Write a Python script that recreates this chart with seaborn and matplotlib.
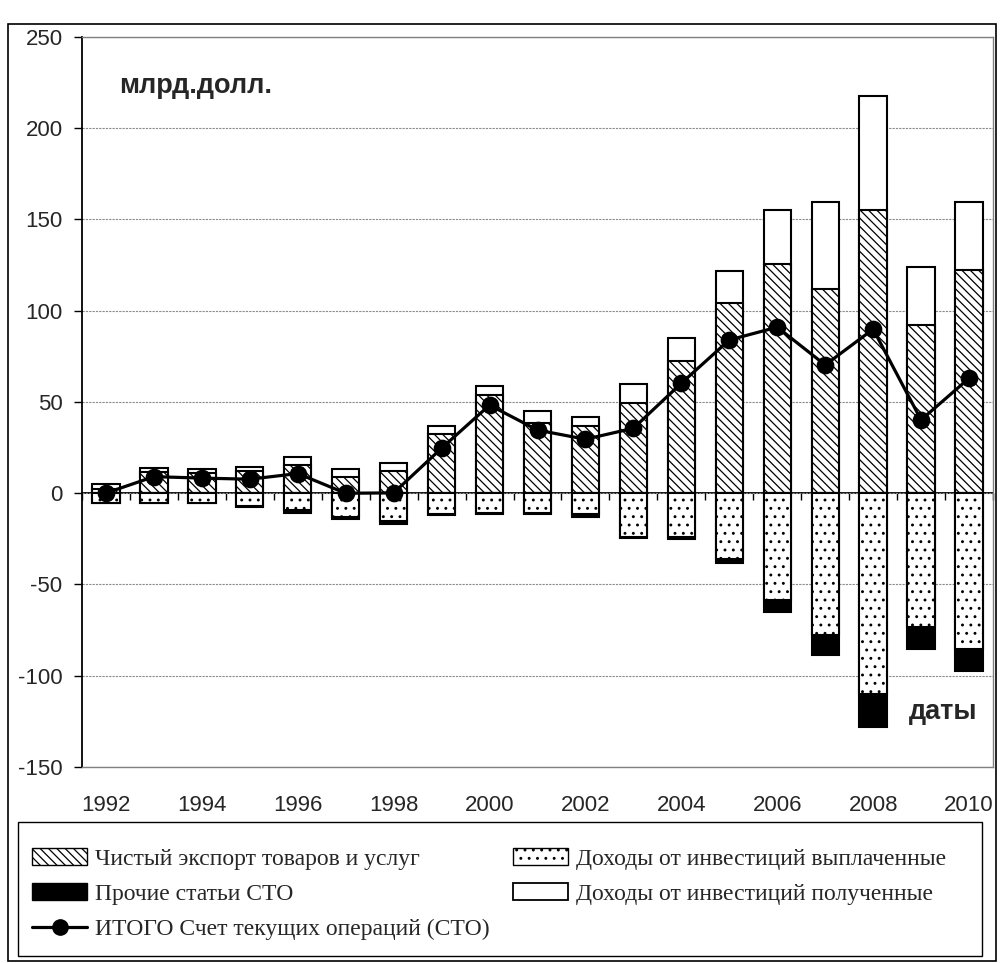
import numpy as np
import pandas as pd
import matplotlib
matplotlib.use("Agg")
import matplotlib.pyplot as plt
from matplotlib.patches import Patch, Rectangle
from matplotlib.lines import Line2D
import seaborn as sns

# ---------------- data (млрд. долл.) ----------------
years = [1992, 1993, 1994, 1995, 1996, 1997, 1998, 1999, 2000, 2001,
         2002, 2003, 2004, 2005, 2006, 2007, 2008, 2009, 2010]
net_export = [2.5, 11.5, 11.0, 12.0, 15.5, 8.8, 12.2, 32.6, 53.8, 38.7,
              36.9, 49.3, 72.7, 104.4, 125.6, 112.0, 155.2, 92.2, 122.3]
inv_received = [2.6, 2.5, 2.3, 2.2, 4.6, 4.4, 4.6, 4.3, 5.2, 6.6,
                5.1, 10.4, 12.6, 17.6, 29.6, 47.4, 62.5, 32.0, 37.1]
inv_paid = [-5.4, -5.4, -5.4, -7.2, -9.4, -13.0, -15.4, -11.3, -11.0, -11.0,
            -11.6, -24.0, -23.8, -36.2, -58.5, -77.6, -110.0, -73.1, -85.5]
other = [0.0, -0.2, -0.2, -0.6, -1.2, -1.2, -1.3, -0.4, -0.4, -0.3,
         -1.3, -0.4, -1.4, -2.2, -6.4, -11.0, -17.9, -12.0, -11.9]
total = [0.1, 9.1, 8.3, 7.7, 10.8, 0.0, 0.2, 24.7, 48.3, 34.6,
         29.6, 35.6, 60.3, 84.0, 91.0, 70.3, 89.9, 40.2, 63.0]
y_ticks = [-150, -100, -50, 0, 50, 100, 150, 200, 250]

lbl_net = "Чистый экспорт товаров и услуг"
lbl_paid = "Доходы от инвестиций выплаченные"
lbl_other = "Прочие статьи СТО"
lbl_recv = "Доходы от инвестиций полученные"
lbl_total = "ИТОГО Счет текущих операций (СТО)"

df = pd.DataFrame({
    "year": [str(y) for y in years],
    "net": net_export,
    "recv": inv_received,
    "paid": inv_paid,
    "other": other,
    "total": total,
})
df["pos_top"] = df["net"] + df["recv"]
df["neg_bottom"] = df["paid"] + df["other"]

# ---------------- style ----------------
sns.set_style("white")
plt.rcParams["font.family"] = ["Liberation Sans", "DejaVu Sans"]
plt.rcParams["axes.unicode_minus"] = False
plt.rcParams["hatch.linewidth"] = 0.9

W, H = 1000, 963
fig = plt.figure(figsize=(W / 100, H / 100), dpi=100)

ax_l, ax_r, ax_t, ax_b = 82, 993, 37, 767
ax = fig.add_axes([ax_l / W, (H - ax_b) / H, (ax_r - ax_l) / W, (ax_b - ax_t) / H])

bw = 0.57
elw = 1.5
common = dict(ax=ax, width=bw, saturation=1, edgecolor="black", linewidth=elw,
              errorbar=None)
# positive stack: received on top of net export
sns.barplot(data=df, x="year", y="pos_top", color="white", **common)
sns.barplot(data=df, x="year", y="net", color="white", hatch=r"\\\\", **common)
# negative stack: other below paid
sns.barplot(data=df, x="year", y="neg_bottom", color="black", **common)
sns.barplot(data=df, x="year", y="paid", color="white", hatch="..", **common)

# total line
sns.pointplot(data=df, x="year", y="total", color="black", markers="o",
              markersize=11, linewidth=2.3, errorbar=None, ax=ax, zorder=5)

# axes
ax.set_ylim(-150, 250)
ax.set_xlim(-0.5, len(years) - 0.5)
ax.set_yticks(y_ticks)
ax.set_yticklabels([str(v) for v in y_ticks])
ax.yaxis.grid(True, color="#8a8a8a", linestyle=(0, (2, 1)), linewidth=0.8)
ax.xaxis.grid(False)
ax.set_axisbelow(True)
ax.set_xlabel("")
ax.set_ylabel("")

xt = list(range(len(years)))
ax.set_xticks(xt)
ax.set_xticklabels([str(y) if y % 2 == 0 else "" for y in years])
ax.tick_params(axis="x", length=0, pad=20, labelsize=16)
ax.tick_params(axis="y", length=6, width=1, direction="out", pad=8,
               labelsize=16, color="black", left=True)

for s in ["top", "right", "bottom"]:
    ax.spines[s].set_color("#808080")
    ax.spines[s].set_linewidth(1.0)
ax.spines["left"].set_color("black")
ax.spines["left"].set_linewidth(1.3)

# zero category axis with boundary ticks
secax = ax.secondary_xaxis(150 / 400)
secax.set_xticks(np.arange(-0.5, len(years), 1.0))
secax.set_xticklabels([])
secax.tick_params(axis="x", length=5, width=1, direction="out", color="black")
secax.spines["bottom"].set_color("black")
secax.spines["bottom"].set_linewidth(1.3)

# annotations
ax.text((119 - ax_l) / (ax_r - ax_l), (ax_b - 86) / (ax_b - ax_t), "млрд.долл.",
        transform=ax.transAxes, fontsize=19.5, fontweight="bold", va="center", ha="left")
ax.text((909 - ax_l) / (ax_r - ax_l), (ax_b - 712) / (ax_b - ax_t), "даты",
        transform=ax.transAxes, fontsize=19.5, fontweight="bold", va="center", ha="left")

# legend
h_net = Patch(facecolor="white", edgecolor="black", hatch=r"\\\\", linewidth=1.0)
h_paid = Patch(facecolor="white", edgecolor="black", hatch="..", linewidth=1.0)
h_other = Patch(facecolor="black", edgecolor="black", linewidth=1.0)
h_recv = Patch(facecolor="white", edgecolor="black", linewidth=1.3)
h_total = Line2D([], [], color="black", marker="o", markersize=11, linewidth=2.3)

leg_font = dict(family=["Liberation Serif", "DejaVu Serif"], size=17)
leg_kw = dict(loc="upper left", frameon=False, prop=leg_font, handlelength=2.35,
              handleheight=0.7, handletextpad=0.3, labelspacing=0.58,
              borderpad=0, borderaxespad=0)
leg1 = fig.legend([h_net, h_other, h_total], [lbl_net, lbl_other, lbl_total],
                  bbox_to_anchor=(32 / W, (H - 848) / H), **leg_kw)
leg2 = fig.legend([h_paid, h_recv], [lbl_paid, lbl_recv],
                  bbox_to_anchor=(513 / W, (H - 848) / H), **leg_kw)

# legend frame and outer frame
fig.add_artist(Rectangle((18 / W, (H - 956) / H), (982 - 18) / W, (956 - 822) / H,
                         transform=fig.transFigure, fill=False, edgecolor="black",
                         linewidth=1.0))
fig.add_artist(Rectangle((8 / W, (H - 961) / H), (996 - 8) / W, (961 - 24) / H,
                         transform=fig.transFigure, fill=False, edgecolor="black",
                         linewidth=1.2))

fig.savefig("out.png", dpi=100)
